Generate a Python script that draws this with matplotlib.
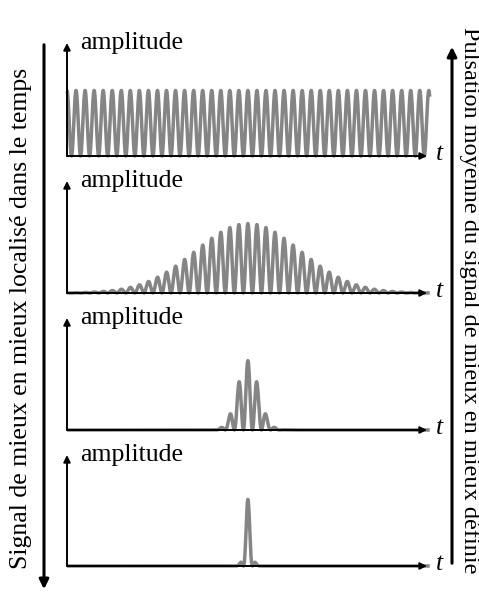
import numpy as np
import matplotlib
matplotlib.use("Agg")
import matplotlib.pyplot as plt

plt.rcParams['font.family'] = ['Liberation Serif', 'DejaVu Serif']

# envelope width of each signal, in carrier periods (inf = pure wave)
widths = [np.inf, 5.8, 1.15, 0.36]
amplitude = [0.58, 0.62, 0.62, 0.60]
center = 20.0          # time of envelope maximum, in periods
t_end = 40.1           # signal length, in periods
t_axis = 39.8          # axis arrow tip, in periods
ylabel = "amplitude"
xlabel = "t"
left_text = "Signal de mieux en mieux localisé dans le temps"
right_text = "Pulsation moyenne du signal de mieux en mieux définie"

W, H = 479, 601
fig = plt.figure(figsize=(W / 100, H / 100), dpi=100)

# pixel layout of the four panels
x0, x1 = 67, 427
baselines = [156, 293, 430, 566]
tops = [43, 181, 318, 455]

gray = '#858585'
t = np.linspace(0, t_end, 4000)

for i in range(4):
    b, tp = baselines[i], tops[i]
    ax = fig.add_axes([x0 / W, 1 - b / H, (x1 - x0) / W, (b - tp) / H])
    ax.set_xlim(0, t_axis)
    ax.set_ylim(0, 1)
    ax.axis('off')
    if np.isinf(widths[i]):
        env = np.ones_like(t)
    else:
        env = np.exp(-(t - center) ** 2 / (2 * widths[i] ** 2))
    y = amplitude[i] * env * (1 + np.cos(2 * np.pi * (t - center))) / 2
    ax.plot(t, y, color=gray, lw=2.5, clip_on=False, solid_capstyle='butt')
    # axes arrows
    ax.annotate('', xy=(0, 1), xytext=(0, 0), xycoords='axes fraction',
                arrowprops=dict(arrowstyle='-|>', color='black', lw=1.4,
                                mutation_scale=10, shrinkA=0, shrinkB=0))
    ax.annotate('', xy=(1, 0), xytext=(0, 0), xycoords='axes fraction',
                arrowprops=dict(arrowstyle='-|>', color='black', lw=1.4,
                                mutation_scale=10, shrinkA=0, shrinkB=0))
    ax.text(0.037, 1.0, ylabel, transform=ax.transAxes, fontsize=18.5,
            ha='left', va='center')
    ax.text(1.025, 0.02, xlabel, transform=ax.transAxes, fontsize=18.5,
            style='italic', ha='left', va='center')

# big side arrows and captions
fig.add_artist(matplotlib.patches.FancyArrowPatch(
    (44 / W, 1 - 42 / H), (44 / W, 1 - 592 / H), transform=fig.transFigure,
    arrowstyle='-|>', mutation_scale=14, lw=2.2, color='black'))
fig.add_artist(matplotlib.patches.FancyArrowPatch(
    (452 / W, 1 - 566 / H), (452 / W, 1 - 44 / H), transform=fig.transFigure,
    arrowstyle='-|>', mutation_scale=14, lw=2.2, color='black'))
fig.text(21 / W, 1 - 318 / H, left_text, rotation=90, fontsize=18.5,
         ha='center', va='center')
fig.text(469 / W, 1 - 300 / H, right_text, rotation=-90, fontsize=17.5,
         ha='center', va='center')

fig.savefig('out.png', dpi=100)
